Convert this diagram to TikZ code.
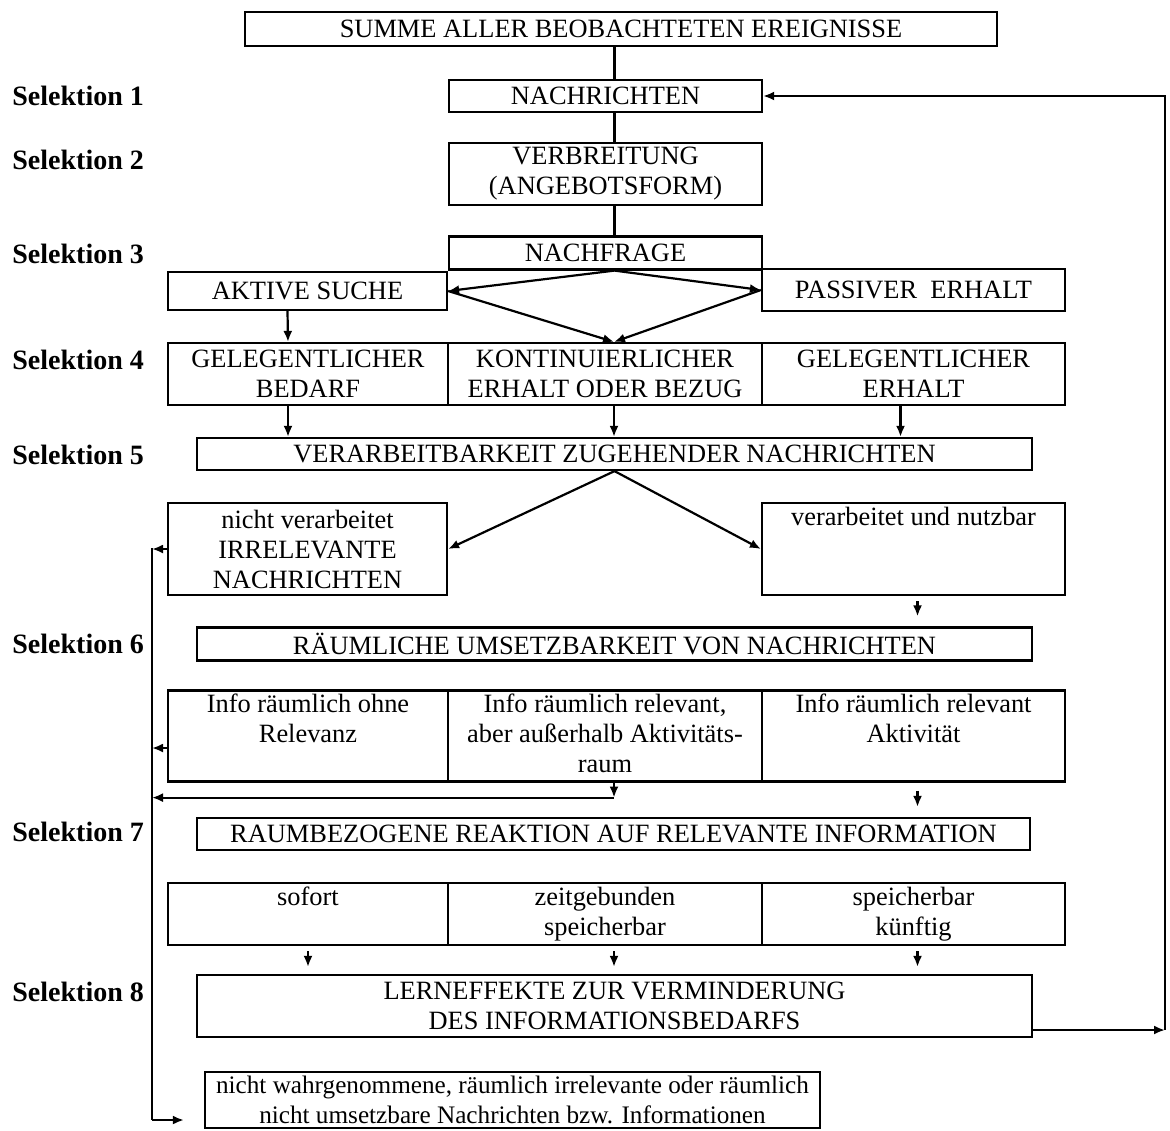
\documentclass[tikz,border=0pt]{standalone}
\usepackage{fontspec}
\setmainfont{Liberation Serif}
\usetikzlibrary{arrows.meta}

\tikzset{
  box/.style={draw,line width=1.1pt,inner sep=0pt,align=center,font=\fontsize{13.2}{15}\selectfont},
  sel/.style={anchor=west,inner sep=0pt,font=\fontsize{14}{15}\selectfont\bfseries},
  ln/.style={line width=1.1pt},
  arr/.style={line width=1.1pt,-{Latex[length=5.5pt,width=4.5pt]}}
}

\begin{document}
\begin{tikzpicture}[x=0.5pt,y=-0.5pt]
\useasboundingbox (0,0) rectangle (1170,1130);

% Selektionsstufen
\node(S1)[sel] at (12,96) {Selektion 1};
\node(S2)[sel] at (12,160) {Selektion 2};
\node(S3)[sel] at (12,254) {Selektion 3};
\node(S4)[sel] at (12,360) {Selektion 4};
\node(S5)[sel] at (12,455) {Selektion 5};
\node(S6)[sel] at (12,644) {Selektion 6};
\node(S7)[sel] at (12,832) {Selektion 7};
\node(S8)[sel] at (12,992) {Selektion 8};

% Kaestchen
\node(sum)[box,minimum width=376pt,minimum height=17pt] at (621,29) {SUMME ALLER BEOBACHTETEN EREIGNISSE};
\node(nachr)[box,minimum width=156.5pt,minimum height=16pt] at (605.5,96) {NACHRICHTEN};
\node(verbr)[box,minimum width=156.5pt,minimum height=31pt] at (605.5,174) {VERBREITUNG\\(ANGEBOTSFORM)};
\node(nachf)[box,minimum width=156.5pt,minimum height=16.5pt] at (605.5,253) {NACHFRAGE};
\node(aktiv)[box,minimum width=139.5pt,minimum height=19pt] at (307.5,291) {AKTIVE SUCHE};
\node(passiv)[box,minimum width=151.5pt,minimum height=21pt] at (913.5,290) {PASSIVER\ \ ERHALT};

\node(gel1)[box,minimum width=140pt,minimum height=31pt] at (308,374) {GELEGENTLICHER\\BEDARF};
\node(kont)[box,minimum width=157pt,minimum height=31pt] at (605,374) {KONTINUIERLICHER\\ERHALT ODER BEZUG};
\node(gel2)[box,minimum width=151.5pt,minimum height=31pt] at (913.5,374) {GELEGENTLICHER\\ERHALT};

\node(verarb)[box,minimum width=417.5pt,minimum height=16pt] at (614.5,454) {VERARBEITBARKEIT ZUGEHENDER NACHRICHTEN};
\node(nichtv)[box,minimum width=139.5pt,minimum height=46pt] at (307.5,549) {nicht verarbeitet\\IRRELEVANTE\\NACHRICHTEN};
\node(verarbn)[box,minimum width=151.5pt,minimum height=46pt] at (913.5,549) {verarbeitet und nutzbar\strut\\\strut\\\strut};

\node(raeuml)[box,minimum width=417.5pt,minimum height=16.5pt] at (614.5,644) {RÄUMLICHE UMSETZBARKEIT VON NACHRICHTEN};
\node(info1)[box,minimum width=140pt,minimum height=45.5pt] at (308,736) {Info räumlich ohne\strut\\Relevanz\strut\\\strut};
\node(info2)[box,minimum width=157pt,minimum height=45.5pt] at (605,736) {Info räumlich relevant,\strut\\aber außerhalb Aktivitäts-\strut\\raum\strut};
\node(info3)[box,minimum width=151.5pt,minimum height=45.5pt] at (913.5,736) {Info räumlich relevant\strut\\Aktivität\strut\\\strut};

\node(raumbez)[box,minimum width=416.5pt,minimum height=16pt] at (613.5,834) {RAUMBEZOGENE REAKTION AUF RELEVANTE INFORMATION};
\node(sof)[box,minimum width=140pt,minimum height=31pt] at (308,914) {sofort\strut\\\strut};
\node(zeit)[box,minimum width=157pt,minimum height=31pt] at (605,914) {zeitgebunden\strut\\speicherbar\strut};
\node(spei)[box,minimum width=151.5pt,minimum height=31pt] at (913.5,914) {speicherbar\strut\\künftig\strut};

\node(lern)[box,minimum width=417.5pt,minimum height=31pt] at (614.5,1006) {LERNEFFEKTE ZUR VERMINDERUNG\\DES INFORMATIONSBEDARFS};
\node(bott)[box,minimum width=307.5pt,minimum height=28pt,font=\fontsize{12.6}{15}\selectfont] at (512.5,1100) {nicht wahrgenommene, räumlich irrelevante oder räumlich\\nicht umsetzbare Nachrichten bzw. Informationen};

% Rueckkopplungen
\coordinate(fbtop) at (152,548);
\coordinate(fbbot) at (152,1120);
\coordinate(fbr) at (1165,1030);

% obere Kette
\draw[ln] ([xshift=4.5pt]nachr.north) -- ([xshift=4.5pt]nachr.north |- sum.south);
\draw[ln] ([xshift=4.5pt]nachr.south) -- ([xshift=4.5pt]verbr.north);
\draw[ln] ([xshift=4.5pt]verbr.south) -- ([xshift=4.5pt]nachf.north);

% Raute
\draw[arr] ([xshift=4.5pt]nachf.south) -- (aktiv.east);
\draw[arr] ([xshift=4.5pt]nachf.south) -- (passiv.west);
\draw[arr] (aktiv.east) -- ([xshift=4.5pt]kont.north);
\draw[arr] (passiv.west) -- ([xshift=4.5pt]kont.north);
\draw[arr] ([xshift=-10pt]aktiv.south) -- ([xshift=-10pt]gel1.north);

% zu Selektion 5
\draw[arr] ([xshift=-10pt]gel1.south) -- ([xshift=-10pt]gel1.south |- verarb.north);
\draw[arr] ([xshift=4.5pt]kont.south) -- ([xshift=4.5pt]kont.south |- verarb.north);
\draw[arr] ([xshift=-6.5pt]gel2.south) -- ([xshift=-6.5pt]gel2.south |- verarb.north);

\draw[arr] (verarb.south) -- (nichtv.east);
\draw[arr] (verarb.south) -- (verarbn.west);
\draw[arr,shorten <=2.5pt,shorten >=5pt] ([xshift=2pt]verarbn.south) -- ([xshift=2pt]verarbn.south |- raeuml.north);

% Selektion 6 und 7
\draw[arr,shorten <=4pt,shorten >=5pt] ([xshift=2pt]info3.south) -- ([xshift=2pt]info3.south |- raumbez.north);
\draw[arr] ([xshift=4.5pt]info2.south) -- ++(0,15) coordinate(c6);
\draw[arr] (c6) -- (c6 -| fbtop);

\draw[arr,shorten <=2.5pt,shorten >=3.5pt] (sof.south) -- (sof.south |- lern.north);
\draw[arr,shorten <=2.5pt,shorten >=3.5pt] ([xshift=4.5pt]zeit.south) -- ([xshift=4.5pt]zeit.south |- lern.north);
\draw[arr,shorten <=2.5pt,shorten >=3.5pt] ([xshift=2pt]spei.south) -- ([xshift=2pt]spei.south |- lern.north);

% links: nicht genutzte Nachrichten
\draw[ln] (fbtop) -- (fbbot);
\draw[arr] (nichtv.west) -- (nichtv.west -| fbtop);
\draw[arr] ([yshift=-6pt]info1.west) -- ([yshift=-6pt]info1.west -| fbtop);
\draw[arr,shorten >=10pt] (fbbot) -- (fbbot -| bott.west);

% rechts: Lerneffekte zurueck zu den Nachrichten
\draw[arr] ([yshift=-12pt]lern.east) -- (fbr);
\draw[arr] (fbr) |- (nachr.east);

\end{tikzpicture}
\end{document}
